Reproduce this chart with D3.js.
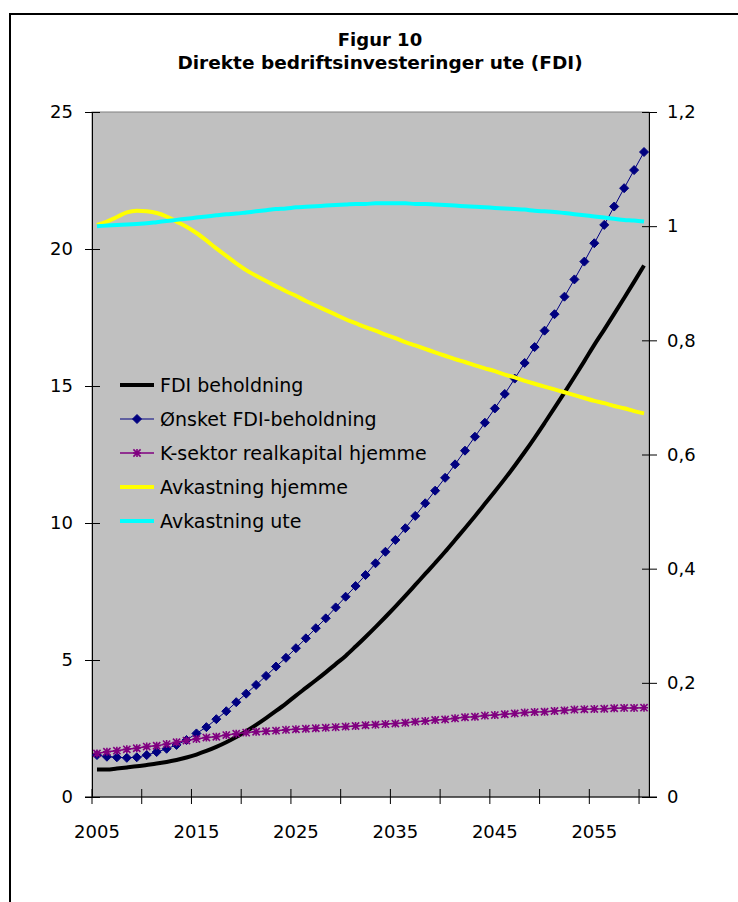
<!DOCTYPE html>
<html>
<head>
<meta charset="utf-8">
<script src="https://cdn.jsdelivr.net/npm/d3@7"></script>
<style>
  body { margin: 0; background: #fff; }
  text { font-family: "DejaVu Sans", Verdana, sans-serif; fill: #000; }
</style>
</head>
<body>
<svg id="chart" width="738" height="902"></svg>
<script>
// Years on the category axis
const years = [
  2005, 2006, 2007, 2008, 2009, 2010, 2011, 2012, 2013, 2014,
  2015, 2016, 2017, 2018, 2019, 2020, 2021, 2022, 2023, 2024,
  2025, 2026, 2027, 2028, 2029, 2030, 2031, 2032, 2033, 2034,
  2035, 2036, 2037, 2038, 2039, 2040, 2041, 2042, 2043, 2044,
  2045, 2046, 2047, 2048, 2049, 2050, 2051, 2052, 2053, 2054,
  2055, 2056, 2057, 2058, 2059, 2060
];
const yearLabels = [2005, 2015, 2025, 2035, 2045, 2055];
const yearTicks = [2005, 2010, 2015, 2020, 2025, 2030, 2035, 2040, 2045, 2050, 2055, 2060];

// Left axis series
const fdiStock = [
  1.00, 1.00, 1.04, 1.08, 1.12, 1.17, 1.22, 1.28, 1.35, 1.44,
  1.55, 1.68, 1.83, 2.00, 2.19, 2.40, 2.63, 2.88, 3.14, 3.41,
  3.70, 3.98, 4.26, 4.55, 4.85, 5.15, 5.49, 5.84, 6.20, 6.57,
  6.95, 7.34, 7.74, 8.14, 8.54, 8.95, 9.38, 9.81, 10.25, 10.70,
  11.15, 11.61, 12.09, 12.59, 13.11, 13.65, 14.20, 14.76, 15.33, 15.91,
  16.50, 17.06, 17.63, 18.21, 18.80, 19.40
];
const fdiDesired = [
  1.53, 1.47, 1.45, 1.43, 1.45, 1.53, 1.64, 1.76, 1.90, 2.08,
  2.32, 2.55, 2.84, 3.13, 3.46, 3.77, 4.09, 4.42, 4.76, 5.08,
  5.43, 5.79, 6.16, 6.52, 6.92, 7.31, 7.70, 8.10, 8.53, 8.95,
  9.38, 9.81, 10.26, 10.72, 11.18, 11.65, 12.14, 12.64, 13.15, 13.66,
  14.18, 14.71, 15.27, 15.84, 16.42, 17.02, 17.62, 18.26, 18.89, 19.54,
  20.21, 20.88, 21.55, 22.22, 22.88, 23.54
];
const kSectorCapital = [
  1.59, 1.65, 1.69, 1.74, 1.78, 1.84, 1.87, 1.93, 2.00, 2.06,
  2.12, 2.17, 2.20, 2.26, 2.31, 2.35, 2.38, 2.40, 2.42, 2.45,
  2.47, 2.49, 2.51, 2.53, 2.55, 2.57, 2.59, 2.62, 2.64, 2.66,
  2.68, 2.71, 2.75, 2.77, 2.81, 2.83, 2.87, 2.91, 2.93, 2.97,
  2.99, 3.02, 3.05, 3.08, 3.10, 3.11, 3.14, 3.16, 3.19, 3.20,
  3.21, 3.22, 3.24, 3.25, 3.25, 3.26
];

// Right axis series
const returnHome = [
  1.002, 1.008, 1.016, 1.024, 1.027, 1.026, 1.023, 1.017, 1.008, 0.999,
  0.988, 0.975, 0.961, 0.948, 0.935, 0.923, 0.913, 0.904, 0.895, 0.886,
  0.878, 0.869, 0.861, 0.853, 0.845, 0.837, 0.830, 0.823, 0.817, 0.810,
  0.804, 0.797, 0.791, 0.785, 0.779, 0.773, 0.767, 0.762, 0.756, 0.751,
  0.746, 0.740, 0.735, 0.729, 0.724, 0.719, 0.714, 0.709, 0.704, 0.699,
  0.694, 0.690, 0.685, 0.681, 0.676, 0.672
];
const returnAbroad = [
  1.000, 1.001, 1.002, 1.003, 1.004, 1.005, 1.007, 1.009, 1.011, 1.013,
  1.015, 1.017, 1.019, 1.021, 1.022, 1.024, 1.026, 1.028, 1.030, 1.031,
  1.033, 1.034, 1.035, 1.036, 1.037, 1.038, 1.039, 1.039, 1.040, 1.040,
  1.040, 1.040, 1.039, 1.039, 1.038, 1.037, 1.036, 1.035, 1.034, 1.033,
  1.032, 1.031, 1.030, 1.029, 1.027, 1.026, 1.025, 1.023, 1.021, 1.019,
  1.017, 1.015, 1.013, 1.011, 1.010, 1.008
];

const leftTicks = [0, 5, 10, 15, 20, 25];
const rightTicks = [0, 0.2, 0.4, 0.6, 0.8, 1, 1.2];

const seriesNames = [
  "FDI beholdning",
  "Ønsket FDI-beholdning",
  "K-sektor realkapital hjemme",
  "Avkastning hjemme",
  "Avkastning ute"
];

// Layout
const plot = { left: 92, right: 649, top: 112, bottom: 797 };
const svg = d3.select("#chart");

const x = d3.scaleBand().domain(years).range([plot.left, plot.right]).padding(0);
const cx = yr => x(yr) + x.bandwidth() / 2;
const yL = d3.scaleLinear().domain([0, 25]).range([plot.bottom, plot.top]);
const yR = d3.scaleLinear().domain([0, 1.2]).range([plot.bottom, plot.top]);
const noFmt = d3.formatLocale({ decimal: ",", thousands: " ", grouping: [3], currency: ["", ""] }).format("~g");

// Outer chart frame
svg.append("rect")
  .attr("x", 10).attr("y", 14).attr("width", 780).attr("height", 940)
  .attr("fill", "#fff").attr("stroke", "#000").attr("stroke-width", 2);

// Title
svg.append("text").attr("x", 380).attr("y", 46).attr("text-anchor", "middle")
  .style("font-weight", "bold").style("font-size", "18px").text("Figur 10");
svg.append("text").attr("x", 380).attr("y", 69).attr("text-anchor", "middle")
  .style("font-weight", "bold").style("font-size", "18.5px").text("Direkte bedriftsinvesteringer ute (FDI)");

// Plot area
svg.append("rect")
  .attr("x", plot.left).attr("y", plot.top)
  .attr("width", plot.right - plot.left).attr("height", plot.bottom - plot.top)
  .attr("fill", "#c0c0c0").attr("stroke", "#808080").attr("stroke-width", 1);

// Left axis
const gL = svg.append("g").attr("transform", `translate(${plot.left},0)`)
  .call(d3.axisLeft(yL).tickValues(leftTicks).tickSize(7).tickFormat(d3.format("d")));
gL.select(".domain").attr("stroke", "#000");
gL.selectAll(".tick line").attr("x1", 8).attr("x2", -7).attr("stroke", "#000");
gL.selectAll(".tick text").attr("x", -19).style("font-size", "18px")
  .style("font-family", "DejaVu Sans, sans-serif").attr("fill", "#000");

// Right axis
const gR = svg.append("g").attr("transform", `translate(${plot.right},0)`)
  .call(d3.axisRight(yR).tickValues(rightTicks).tickSize(8).tickFormat(noFmt));
gR.select(".domain").attr("stroke", "#000");
gR.selectAll(".tick line").attr("x1", -7).attr("x2", 8).attr("stroke", "#000");
gR.selectAll(".tick text").attr("x", 18).style("font-size", "18px")
  .style("font-family", "DejaVu Sans, sans-serif").attr("fill", "#000");

// Bottom axis (category boundaries every five years, labels every ten)
const gB = svg.append("g");
gB.append("line")
  .attr("x1", plot.left - 7).attr("x2", plot.right + 8)
  .attr("y1", plot.bottom).attr("y2", plot.bottom)
  .attr("stroke", "#000");
gB.selectAll("line.tk").data(yearTicks).join("line").attr("class", "tk")
  .attr("x1", d => x(d)).attr("x2", d => x(d))
  .attr("y1", plot.bottom - 8).attr("y2", plot.bottom + 7)
  .attr("stroke", "#000");
gB.selectAll("text").data(yearLabels).join("text")
  .attr("x", d => cx(d)).attr("y", 838).attr("text-anchor", "middle")
  .style("font-size", "18px").text(d => d);

// Series
const lineL = d3.line().x((d, i) => cx(years[i])).y(d => yL(d));
const lineR = d3.line().x((d, i) => cx(years[i])).y(d => yR(d)).curve(d3.curveMonotoneX);
const lineLs = d3.line().x((d, i) => cx(years[i])).y(d => yL(d)).curve(d3.curveMonotoneX);

svg.append("path").datum(fdiStock).attr("d", lineLs)
  .attr("fill", "none").attr("stroke", "#000").attr("stroke-width", 4).attr("stroke-linejoin", "round");

const diamond = "M0,-4.5L4.5,0L0,4.5L-4.5,0Z";
const star = "M0,-4V4M-3.6,-3.6L3.6,3.6M-3.6,3.6L3.6,-3.6M-4,0H4";

svg.append("path").datum(fdiDesired).attr("d", lineL)
  .attr("fill", "none").attr("stroke", "#000080").attr("stroke-width", 1);
svg.append("g").selectAll("path").data(fdiDesired).join("path")
  .attr("d", diamond)
  .attr("transform", (d, i) => `translate(${cx(years[i])},${yL(d)})`)
  .attr("fill", "#000080").attr("stroke", "#000080").attr("stroke-width", 1);

svg.append("path").datum(kSectorCapital).attr("d", lineL)
  .attr("fill", "none").attr("stroke", "#800080").attr("stroke-width", 1.5);
svg.append("g").selectAll("path").data(kSectorCapital).join("path")
  .attr("d", star)
  .attr("transform", (d, i) => `translate(${cx(years[i])},${yL(d)})`)
  .attr("fill", "none").attr("stroke", "#800080").attr("stroke-width", 1.6);

svg.append("path").datum(returnHome).attr("d", lineR)
  .attr("fill", "none").attr("stroke", "#ffff00").attr("stroke-width", 4).attr("stroke-linejoin", "round");
svg.append("path").datum(returnAbroad).attr("d", lineR)
  .attr("fill", "none").attr("stroke", "#00ffff").attr("stroke-width", 4).attr("stroke-linejoin", "round");

// Legend
const legendY = [385, 419, 453, 487, 521];
const lg = svg.append("g");
const sw0 = 120, sw1 = 154;
const styles = [
  { c: "#000", w: 4, m: null },
  { c: "#000080", w: 1, m: "d" },
  { c: "#800080", w: 1.5, m: "s" },
  { c: "#ffff00", w: 4, m: null },
  { c: "#00ffff", w: 4, m: null }
];
seriesNames.forEach((name, i) => {
  const y = legendY[i], s = styles[i];
  lg.append("line").attr("x1", sw0).attr("x2", sw1).attr("y1", y).attr("y2", y)
    .attr("stroke", s.c).attr("stroke-width", s.w);
  if (s.m === "d") {
    lg.append("path").attr("d", diamond).attr("transform", `translate(${(sw0 + sw1) / 2},${y})`)
      .attr("fill", s.c).attr("stroke", s.c);
  } else if (s.m === "s") {
    lg.append("path").attr("d", star).attr("transform", `translate(${(sw0 + sw1) / 2},${y})`)
      .attr("fill", "none").attr("stroke", s.c).attr("stroke-width", 1.6);
  }
  lg.append("text").attr("x", 160).attr("y", y + 7).style("font-size", "19px").text(name);
});
</script>
</body>
</html>
